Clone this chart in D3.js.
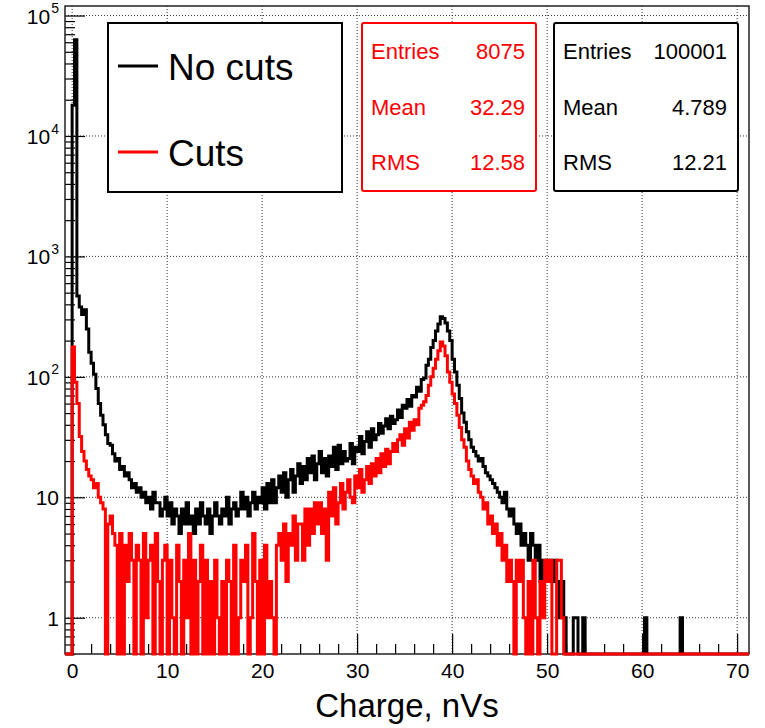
<!DOCTYPE html>
<html>
<head>
<meta charset="utf-8">
<script src="https://cdn.jsdelivr.net/npm/d3@7"></script>
<style>
  body { margin: 0; background: #fff; }
  svg { display: block; font-family: "Liberation Sans", Arial, Helvetica, sans-serif; }
</style>
</head>
<body>
<svg id="chart" width="765" height="728"></svg>
<script>
// histogram binning: 288 bins of 0.25 nVs from -0.75 to 71.25
const histMin = -0.75;
const histMax = 71.25;
const binWidth = 0.25;

// counts per bin, one row per 1 nVs (first row: -0.75 .. 0)
const noCuts = [
    0, 0, 0,
    18000, 63000, 470, 380,
    330, 360, 250, 160,
    130, 105, 80, 60,
    48, 40, 33, 28,
    27, 23, 20, 21,
    17, 18, 15, 16,
    14, 12, 13, 11,
    12, 10, 11, 9,
    10, 8, 11, 9,
    9, 7, 8, 10,
    7, 9, 6, 8,
    7, 5, 8, 6,
    9, 6, 7, 5,
    8, 6, 9, 7,
    6, 8, 5, 7,
    9, 7, 6, 8,
    7, 10, 6, 8,
    9, 7, 8, 11,
    8, 10, 7, 9,
    11, 8, 10, 9,
    12, 8, 13, 9,
    14, 9, 12, 15,
    11, 16, 10, 14,
    17, 11, 15, 19,
    13, 18, 14, 21,
    16, 22, 14, 19,
    24, 16, 21, 15,
    22, 18, 26, 17,
    27, 19, 24, 20,
    21, 28, 19, 26,
    24, 32, 23, 29,
    35, 26, 37, 30,
    33, 41, 34, 39,
    45, 37, 47, 41,
    44, 53, 46, 58,
    55, 65, 57, 70,
    68, 82, 76, 95,
    98, 125, 140, 175,
    200, 240, 275, 315,
    305, 280, 240, 200,
    140, 110, 85, 66,
    50, 42, 35, 30,
    26, 24, 22, 20,
    21, 18, 16, 15,
    14, 13, 12, 11,
    10, 9, 11, 8,
    7, 8, 6, 5,
    6, 4, 5, 4,
    3, 5, 4, 3,
    4, 2, 3, 3,
    2, 3, 2, 3,
    2, 1, 2, 1,
    0, 0, 0, 1,
    1, 0, 0, 1,
    0, 0, 0, 0,
    0, 0, 0, 0,
    0, 0, 0, 0,
    0, 0, 0, 0,
    0, 0, 0, 0,
    0, 0, 0, 0,
    0, 1, 0, 0,
    0, 0, 0, 0,
    0, 0, 0, 0,
    0, 0, 0, 0,
    1, 0, 0, 0,
    0, 0, 0, 0,
    0, 0, 0, 0,
    0, 0, 0, 0,
    0, 0, 0, 0,
    0, 0, 0, 0,
    0, 0, 0, 0,
    0
];

const cuts = [
    0, 0, 0,
    177, 90, 60, 32,
    24, 20, 17, 15,
    14, 12, 13, 10,
    9, 8, 0, 6,
    7, 5, 4, 0,
    5, 0, 4, 2,
    5, 3, 0, 4,
    3, 0, 5, 1,
    3, 4, 0, 5,
    2, 0, 3, 4,
    0, 3, 1, 0,
    4, 2, 0, 3,
    1, 5, 0, 3,
    0, 2, 4, 0,
    3, 0, 2, 0,
    3, 1, 0, 2,
    0, 3, 2, 0,
    4, 0, 1, 3,
    2, 4, 0, 1,
    5, 2, 0, 3,
    0, 4, 1, 2,
    1, 0, 4, 5,
    3, 6, 2, 5,
    4, 7, 3, 6,
    6, 3, 8, 4,
    8, 5, 9, 6,
    9, 5, 8, 3,
    11, 7, 12, 6,
    9, 13, 8, 11,
    14, 10, 9, 15,
    12, 17, 11, 14,
    18, 13, 19, 15,
    21, 16, 23, 18,
    25, 19, 24, 28,
    24, 30, 33, 27,
    37, 31, 42, 36,
    44, 40, 55, 58,
    62, 70, 85, 100,
    118, 140, 165, 195,
    180, 150, 110, 90,
    72, 60, 48, 38,
    30, 26, 20, 17,
    15, 13, 14, 11,
    10, 8, 9, 6,
    7, 5, 6, 4,
    5, 3, 4, 2,
    3, 2, 0, 3,
    2, 3, 1, 0,
    2, 0, 3, 1,
    0, 2, 1, 3,
    2, 3, 0, 0,
    3, 3, 1, 0,
    0, 0, 0, 0,
    0, 0, 0, 0,
    0, 0, 0, 0,
    0, 0, 0, 0,
    0, 0, 0, 0,
    0, 0, 0, 0,
    0, 0, 0, 0,
    0, 0, 0, 0,
    0, 0, 0, 0,
    0, 0, 0, 0,
    0, 0, 0, 0,
    0, 0, 0, 0,
    0, 0, 0, 0,
    0, 0, 0, 0,
    0, 0, 0, 0,
    0, 0, 0, 0,
    0, 0, 0, 0,
    0, 0, 0, 0,
    0, 0, 0, 0,
    0
];

const xTickValues = [0, 10, 20, 30, 40, 50, 60, 70];
const yTickValues = [1, 10, 100, 1000, 10000, 100000];
const yTickLabels = [["1", ""], ["10", ""], ["10", "2"], ["10", "3"], ["10", "4"], ["10", "5"]];
const xTitle = "Charge, nVs";

const legendLabels = ["No cuts", "Cuts"];
const statNames = ["Entries", "Mean", "RMS"];
const cutsStats = ["8075", "32.29", "12.58"];
const noCutsStats = ["100001", "4.789", "12.21"];

const frame = {left: 65, right: 749, top: 6, bottom: 654};
const svg = d3.select('#chart');

const x = d3.scaleLinear().domain([histMin, histMax]).range([frame.left, frame.right]);
const y = d3.scaleLog().domain([0.5, 1.2e5]).range([frame.bottom, frame.top]);

// dotted grid at major ticks
const grid = svg.append('g')
    .attr('stroke', '#333')
    .attr('stroke-width', 1)
    .attr('stroke-dasharray', '1,2');
grid.selectAll('.gx').data(xTickValues).enter().append('line')
    .attr('x1', d => x(d)).attr('x2', d => x(d))
    .attr('y1', frame.top).attr('y2', frame.bottom);
grid.selectAll('.gy').data(yTickValues).enter().append('line')
    .attr('x1', frame.left).attr('x2', frame.right)
    .attr('y1', d => y(d)).attr('y2', d => y(d));

// minor ticks
const xMinor = x.ticks(36).filter(d => d % 10 !== 0);
const yMinor = y.ticks().filter(d => Math.abs(Math.log10(d) - Math.round(Math.log10(d))) > 1e-6);

svg.append('g')
    .attr('transform', `translate(0,${frame.bottom})`)
    .call(d3.axisBottom(x).tickValues(xMinor).tickSize(-10).tickFormat(''))
    .call(g => g.select('.domain').remove())
    .call(g => g.selectAll('.tick line').attr('stroke-width', 1.2));

svg.append('g')
    .attr('transform', `translate(${frame.left},0)`)
    .call(d3.axisLeft(y).tickValues(yMinor).tickSize(-10).tickFormat(''))
    .call(g => g.select('.domain').remove())
    .call(g => g.selectAll('.tick line').attr('stroke-width', 1.2));

// major ticks + labels
svg.append('g')
    .attr('transform', `translate(0,${frame.bottom})`)
    .call(d3.axisBottom(x).tickValues(xTickValues).tickSize(-20).tickPadding(9).tickFormat(d3.format('d')))
    .call(g => g.select('.domain').remove())
    .call(g => g.selectAll('.tick line').attr('stroke-width', 1.2))
    .call(g => g.selectAll('.tick text')
        .attr('font-size', 21).attr('fill', '#000')
        .attr('font-family', '"Liberation Sans", Arial, sans-serif'));

svg.append('g')
    .attr('transform', `translate(${frame.left},0)`)
    .call(d3.axisLeft(y).tickValues(yTickValues).tickSize(-20).tickPadding(6).tickFormat(''))
    .call(g => g.select('.domain').remove())
    .call(g => g.selectAll('.tick line').attr('stroke-width', 1.2))
    .call(g => g.selectAll('.tick text').each(function(d, i) {
        const t = d3.select(this)
            .attr('font-size', 21).attr('fill', '#000').attr('dy', '0.36em')
            .attr('font-family', '"Liberation Sans", Arial, sans-serif');
        t.append('tspan').text(yTickLabels[i][0]);
        if (yTickLabels[i][1]) {
            t.append('tspan').attr('font-size', 14).attr('dy', '-0.75em').attr('dx', 1).text(yTickLabels[i][1]);
        }
    }));

// frame
svg.append('rect')
    .attr('x', frame.left).attr('y', frame.top)
    .attr('width', frame.right - frame.left).attr('height', frame.bottom - frame.top)
    .attr('fill', 'none').attr('stroke', '#222').attr('stroke-width', 1.5);

// histograms as step lines
const stepLine = d3.line()
    .x(d => x(d[0]))
    .y(d => y(Math.max(d[1], 0.5)))
    .curve(d3.curveStepAfter);

function histPoints(counts) {
    const pts = counts.map((c, i) => [histMin + i * binWidth, c]);
    pts.push([histMax, counts[counts.length - 1]]);
    return pts;
}

svg.append('path')
    .attr('d', stepLine(histPoints(noCuts)))
    .attr('fill', 'none').attr('stroke', '#000').attr('stroke-width', 3);

svg.append('path')
    .attr('d', stepLine(histPoints(cuts)))
    .attr('fill', 'none').attr('stroke', '#ff0000').attr('stroke-width', 3);

// x axis title
svg.append('text')
    .attr('x', (frame.left + frame.right) / 2).attr('y', 717)
    .attr('text-anchor', 'middle').attr('font-size', 33)
    .text(xTitle);

// legend
const legend = svg.append('g');
legend.append('rect')
    .attr('x', 108).attr('y', 23).attr('width', 234).attr('height', 169)
    .attr('fill', '#fff').attr('stroke', '#000').attr('stroke-width', 2);
const legendColors = ['#000', '#ff0000'];
const legendY = [66, 152];
legendLabels.forEach((label, i) => {
    legend.append('line')
        .attr('x1', 118).attr('x2', 158)
        .attr('y1', legendY[i]).attr('y2', legendY[i])
        .attr('stroke', legendColors[i]).attr('stroke-width', 3);
    legend.append('text')
        .attr('x', 168).attr('y', legendY[i] + 14)
        .attr('font-size', 37).attr('fill', '#000')
        .text(label);
});

// stat boxes
function statBox(x0, w, color, values) {
    const g = svg.append('g');
    g.append('rect')
        .attr('x', x0).attr('y', 23).attr('width', w).attr('height', 168).attr('rx', 2)
        .attr('fill', '#fff').attr('stroke', color).attr('stroke-width', 2);
    const rowY = [59, 115, 170];
    statNames.forEach((name, i) => {
        g.append('text')
            .attr('x', x0 + 9).attr('y', rowY[i])
            .attr('font-size', 22).attr('fill', color)
            .text(name);
        g.append('text')
            .attr('x', x0 + w - 11).attr('y', rowY[i])
            .attr('font-size', 22).attr('fill', color).attr('text-anchor', 'end')
            .text(values[i]);
    });
}
statBox(362, 174, '#ff0000', cutsStats);
statBox(554, 184, '#000', noCutsStats);
</script>
</body>
</html>
